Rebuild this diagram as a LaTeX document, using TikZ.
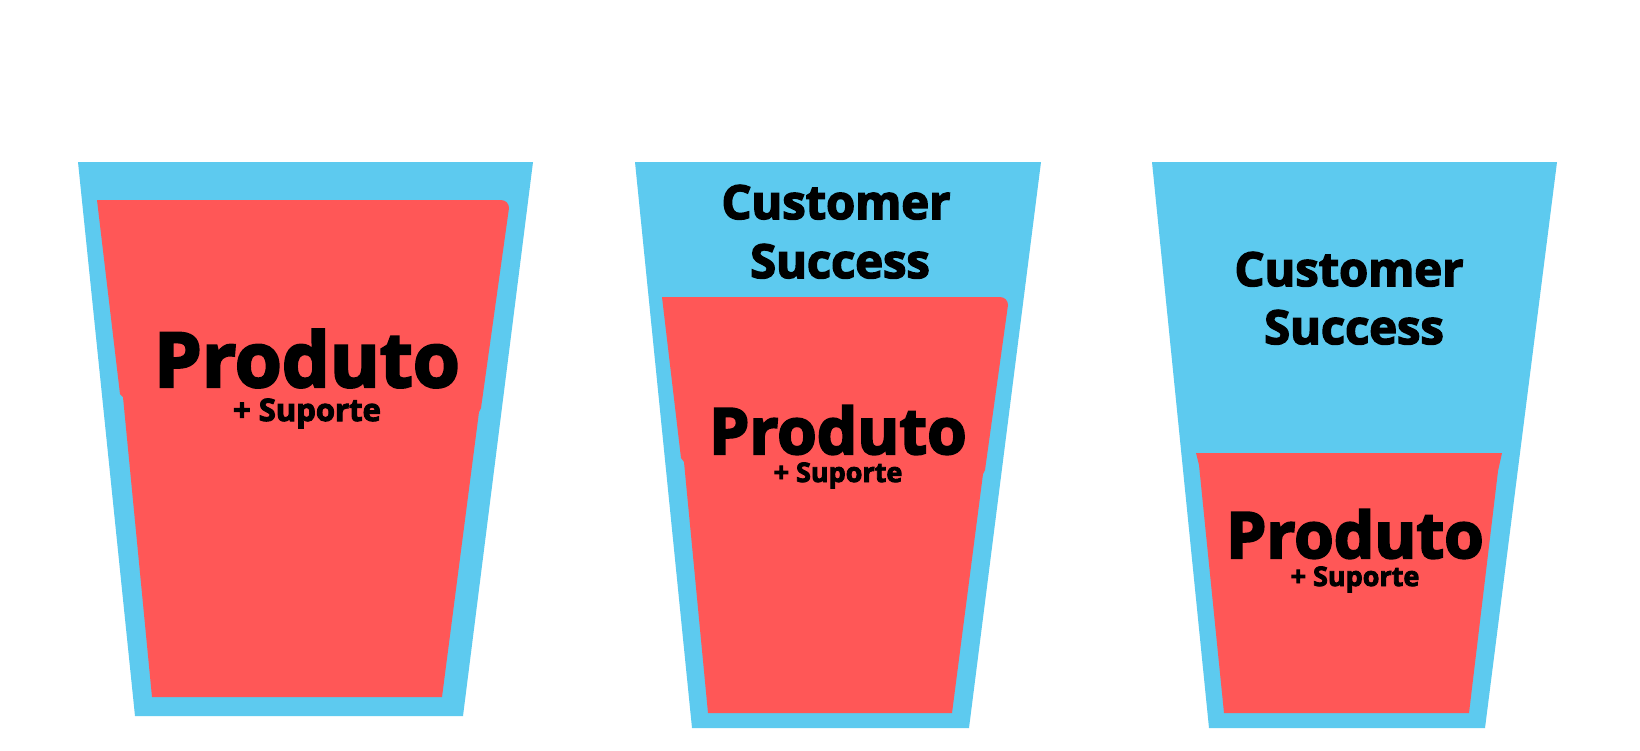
\documentclass[tikz,border=0pt]{standalone}
\usepackage{fontspec}
\setmainfont{Open Sans}[BoldFeatures={FakeBold=3.2}]
\definecolor{cupblue}{HTML}{5DCAEF}
\definecolor{juice}{HTML}{FF5757}
\tikzset{
  cupbody/.style={fill=cupblue, draw=none},
  juicebody/.style={fill=juice, draw=none},
  big/.style={anchor=base, inner sep=0pt, font=\bfseries\fontsize{#1}{#1}\selectfont},
}
\begin{document}
\begin{tikzpicture}[x=1pt,y=-1pt]
\useasboundingbox (0,0) rectangle (1640,750);
\path[fill=white] (0,0) rectangle (1640,750);
% cup 1
\path[cupbody] (78,162) -- (533,162) -- (463,716) -- (135,716) -- cycle;
\path[juicebody] (97,200) -- (501,200) arc[start angle=-90, end angle=0, radius=8] -- (481,408) -- (479,412) -- (442,697) -- (152,697) -- (123,397) -- (120,394) -- cycle;
\node[big=76] (p1) at (307,387) {Produto};
\node[big=31] (s1) at (307,421) {+ Suporte};
% cup 2
\path[cupbody] (635,162) -- (1041,162) -- (969,728) -- (692,728) -- cycle;
\path[juicebody] (662,297) -- (1000,297) arc[start angle=-90, end angle=0, radius=8] -- (985,470) -- (983,474) -- (952,713) -- (708,713) -- (684,462) -- (681,458) -- cycle;
\node[big=47] (c2) at (836,219) {Customer};
\node[big=47] (u2) at (840,278) {Success};
\node[big=64] (p2) at (838,454) {Produto};
\node[big=27] (s2) at (838,482) {+ Suporte};
% cup 3
\path[cupbody] (1152,162) -- (1557,162) -- (1485,728) -- (1209,728) -- cycle;
\path[juicebody] (1196,453) -- (1502,453) -- (1498,471) -- (1469,713) -- (1224,713) -- (1199,465) -- cycle;
\node[big=47] (c3) at (1349,286) {Customer};
\node[big=47] (u3) at (1354,344) {Success};
\node[big=64] (p3) at (1355,558) {Produto};
\node[big=27] (s3) at (1355,586) {+ Suporte};
\end{tikzpicture}
\end{document}
